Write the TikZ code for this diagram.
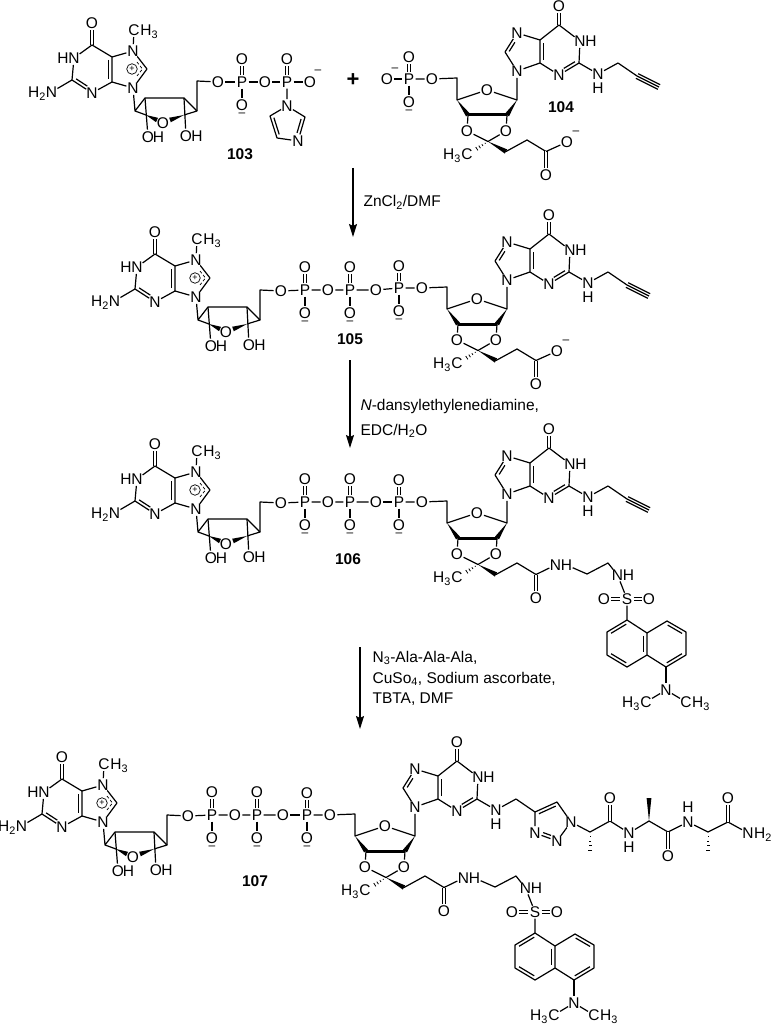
\documentclass[tikz,border=0pt]{standalone}
\usepackage{fontspec}
\setmainfont{Liberation Sans}
\usetikzlibrary{calc,arrows.meta}
\newcommand{\atomfont}{\fontsize{15.5}{17}\selectfont}
\newcommand{\labelfont}{\fontsize{15.5}{18}\selectfont}
\tikzstyle{atom}=[circle,inner sep=-1pt,font=\atomfont]
\tikzstyle{tag}=[inner sep=0pt,font=\atomfont]
\tikzstyle{minus}=[inner sep=0pt,font=\fontsize{12}{12}\selectfont]
\tikzstyle{cpd}=[inner sep=0pt,font=\labelfont\bfseries]
\tikzstyle{reagent}=[inner sep=0pt,anchor=base west,font=\labelfont]
\tikzstyle{dbl}=[double,double distance=2pt,line width=1pt]
\tikzstyle{step arrow}=[-{Stealth[length=13pt,width=8pt,inset=2pt]}]
% bond helpers
\newcommand{\wedgeb}[2]{\fill (#1) -- ($(#2)!2.4pt!90:(#1)$) -- ($(#2)!2.4pt!-90:(#1)$) -- cycle;}
\newcommand{\hashb}[2]{\foreach \t/\w in {.2/.5,.4/1,.6/1.5,.8/2,1/2.5}{\draw[line width=.8pt] ($(#1)!\t!(#2)!\w pt!90:(#2)$) -- ($(#1)!\t!(#2)!\w pt!-90:(#2)$);}}
\newcommand{\inbond}[5]{\draw ($(#1)!#4!(#2)!3.2pt!#3:(#2)$) -- ($(#1)!#5!(#2)!3.2pt!#3:(#2)$);}
\newcommand{\phos}[3]{
\node[atom] (#1) at (#2,#3) {P};
\node[atom] (#1t) at (#2,#3-23) {O};
\node[atom] (#1b) at (#2,#3+23) {O};
\node[minus] (#1m) at (#2,#3+33) {--};
\draw[dbl] (#1) -- (#1t);
\draw (#1) -- (#1b);
}
% 7-methylguanosine end
\newcommand{\capunit}[3]{
\begin{scope}[shift={(#2,#3)},name prefix=#1-]
\node[atom] (o6) at (92,23) {O};
\node[atom] (n1) at (74,58) {N};
\node[tag] (h1) at (63,58) {H};
\node[atom] (n2) at (51.5,92) {N};
\node[tag,anchor=base east] (h2) at (46.5,97.5) {H\textsubscript{2}};
\node[atom] (n3) at (92,93) {N};
\node[atom] (n7) at (133,51) {N};
\node[atom] (n9) at (133,88) {N};
\node[atom] (me) at (134,30) {C};
\node[tag,anchor=base west] (meh) at (139.8,35.5) {H\textsubscript{3}};
\node[draw,circle,inner sep=0pt,line width=.7pt,minimum size=10.5pt,font=\fontsize{9}{9}\selectfont] (pl) at (132,69) {+};
\coordinate (c6) at (92,45);
\coordinate (c5) at (112,57);
\coordinate (c4) at (112,82);
\coordinate (c2) at (72,80);
\coordinate (c8) at (147,69);
\coordinate (d1) at (137,62);
\coordinate (d2) at (142.5,69);
\coordinate (d3) at (137,76);
\draw[dbl] (o6) -- (c6);
\draw (n1) -- (c6) -- (c5) -- (c4) -- (n3) -- (c2) -- (n1);
\draw (c2) -- (n2);
\draw (c5) -- (n7) -- (c8) -- (n9) -- (c4);
\draw (n7) -- (me);
\draw[densely dashed,line width=.7pt] (d1) -- (d2) -- (d3);
\inbond{c5}{c4}{-90}{.12}{.88}
\inbond{n3}{c2}{-90}{.32}{.88}
% sugar
\node[atom] (or) at (163,123) {O};
\node[atom] (oa) at (148,137) {O};
\node[tag] (ha) at (158.5,137) {H};
\node[atom] (ob) at (186,136) {O};
\node[tag] (hb) at (197,136) {H};
\node[atom] (o5) at (218,82) {O};
\coordinate (s1) at (135,111);
\coordinate (s2) at (145,98);
\coordinate (s3) at (184,98);
\coordinate (s4) at (197,111);
\coordinate (s5) at (146,115);
\coordinate (s6) at (184,115);
\coordinate (s7) at (197,81);
\coordinate (w1) at (157,120);
\coordinate (w2) at (170,120);
\draw (n9) -- (s1) -- (s2) -- (s3) -- (s4) -- (s6);
\draw (s1) -- (s5);
\draw (s2) -- (oa);
\draw (s3) -- (ob);
\draw (s4) -- (s7) -- (o5);
\wedgeb{s5}{w1}
\wedgeb{s6}{w2}
\end{scope}
}
% first two phosphates of the chain
\newcommand{\triunit}[3]{
\begin{scope}[shift={(#2,#3)},name prefix=#1-]
\phos{p1}{242}{81}
\phos{p2}{287}{81}
\node[atom] (o1) at (265,81) {O};
\node[atom] (o2) at (313,81) {O};
\draw (o5) -- (p1) -- (o1) -- (p2) -- (o2);
\end{scope}
}
% guanosine with ketal and phosphate
\newcommand{\rnaunit}[3]{
\begin{scope}[shift={(#2,#3)},name prefix=#1-]
\node[atom] (o6) at (559,6) {O};
\node[atom] (n1) at (580,41) {N};
\node[tag] (h1) at (591,41) {H};
\node[atom] (n3) at (559,75) {N};
\node[atom] (n7) at (517,33) {N};
\node[atom] (n9) at (517,71) {N};
\node[atom] (n2) at (598,74) {N};
\node[atom] (h2) at (598,88) {H};
\coordinate (c6) at (559,25);
\coordinate (c5) at (540,40);
\coordinate (c4) at (540,63);
\coordinate (c2) at (579,63);
\coordinate (c8) at (505,52);
\coordinate (ch) at (618,63);
\draw[dbl] (o6) -- (c6);
\draw (n1) -- (c6) -- (c5) -- (c4) -- (n3) -- (c2) -- (n1);
\draw (c2) -- (n2) -- (ch);
\draw (c5) -- (n7) -- (c8) -- (n9) -- (c4);
\inbond{c4}{c5}{-90}{.12}{.88}
\inbond{c2}{n3}{-90}{.12}{.68}
\inbond{c8}{n7}{-90}{.12}{.6}
% ribose and ketal
\node[atom] (or) at (487,90) {O};
\node[atom] (o3) at (467,131) {O};
\node[atom] (o2) at (506,131) {O};
\node[atom] (o5) at (432,79) {O};
\node[atom] (p) at (409,79) {P};
\node[atom] (pt) at (409,57) {O};
\node[atom] (pb) at (409,102) {O};
\node[minus] (pm) at (409,112) {--};
\node[atom] (mec) at (467,154) {C};
\node[tag,anchor=base east] (meh) at (461.4,159.5) {H\textsubscript{3}};
\coordinate (r1) at (517,100);
\coordinate (r2) at (507,115);
\coordinate (r3) at (468,115);
\coordinate (r4) at (457,100);
\coordinate (r5) at (457,78);
\coordinate (cq) at (488,141.5);
\coordinate (hh) at (474,150.5);
\coordinate (t1) at (506,151.5);
\coordinate (t2) at (527,140);
\coordinate (t3) at (546,151.5);
\node[atom] (ot) at (546,175) {O};
\draw (n9) -- (r1) -- (or) -- (r4) -- (r5) -- (o5) -- (p);
\draw[dbl] (p) -- (pt);
\draw (p) -- (pb);
\wedgeb{r1}{r2}
\wedgeb{r4}{r3}
\draw[line width=3pt] (r3) -- (r2);
\draw (r3) -- (o3) -- (cq) -- (o2) -- (r2);
\hashb{cq}{hh}
\wedgeb{cq}{t1}
\draw (t1) -- (t2) -- (t3);
\draw[dbl] (t3) -- (ot);
\end{scope}
}
\newcommand{\acidend}[3]{
\begin{scope}[shift={(#2,#3)},name prefix=#1-]
\node[atom] (oa) at (567,142) {O};
\node[minus] (oam) at (576,133) {--};
\draw (t3) -- (oa);
\end{scope}
}
\newcommand{\alkyne}[3]{
\begin{scope}[shift={(#2,#3)},name prefix=#1-]
\coordinate (y1) at (637,76);
\coordinate (y2) at (659,87);
\draw (ch) -- (y1) -- (y2);
\draw ($(y1)!2.6pt!90:(y2)$) -- ($(y2)!2.6pt!-90:(y1)$);
\draw ($(y1)!2.6pt!-90:(y2)$) -- ($(y2)!2.6pt!90:(y1)$);
\end{scope}
}
% amide chain and dansyl
\newcommand{\dansyl}[3]{
\begin{scope}[shift={(#2,#3)},name prefix=#1-]
\node[atom] (na) at (565.5,142) {N};
\node[tag] (nah) at (576.5,142) {H};
\node[atom] (nb) at (627.5,152) {N};
\node[tag] (nbh) at (638.5,152) {H};
\node[atom] (s) at (637,176) {S};
\node[atom] (so1) at (614,176) {O};
\node[atom] (so2) at (659,176) {O};
\node[atom] (nd) at (676,267) {N};
\node[atom] (mel) at (656,279) {C};
\node[tag,anchor=base east] (melh) at (650.4,284.5) {H\textsubscript{3}};
\node[atom] (mer) at (696,279) {C};
\node[tag,anchor=base west] (merh) at (701.6,284.5) {H\textsubscript{3}};
\coordinate (e1) at (597,151);
\coordinate (e2) at (618,140);
\coordinate (a1) at (637,197);
\coordinate (a2) at (617,209);
\coordinate (a3) at (617,232);
\coordinate (a4) at (637,244);
\coordinate (a5) at (657,232);
\coordinate (a6) at (657,210);
\coordinate (a7) at (677,198);
\coordinate (a8) at (696,209);
\coordinate (a9) at (696,232);
\coordinate (a10) at (676,244);
\draw (t3) -- (na);
\draw (nah) -- (e1) -- (e2) -- (nb);
\draw (nb) -- (s) -- (a1);
\draw[dbl] (so1) -- (s);
\draw[dbl] (s) -- (so2);
\draw (a1) -- (a2) -- (a3) -- (a4) -- (a5) -- (a6) -- (a1);
\draw (a6) -- (a7) -- (a8) -- (a9) -- (a10) -- (a5);
\inbond{a2}{a1}{-90}{.12}{.88}
\inbond{a4}{a3}{-90}{.12}{.88}
\inbond{a6}{a5}{-90}{.12}{.88}
\inbond{a7}{a8}{-90}{.12}{.88}
\inbond{a9}{a10}{-90}{.12}{.88}
\draw (a10) -- (nd);
\draw (mel) -- (nd) -- (mer);
\end{scope}
}
\begin{document}
\begin{tikzpicture}[x=1pt,y=-1pt,line width=1.2pt,line join=round]
\useasboundingbox (0,0) rectangle (771,1024);

% 103
\capunit{m3}{0}{0}
\begin{scope}[name prefix=m3-]
\phos{p1}{242}{82}
\node[atom] (o1) at (265,82) {O};
\node[atom] (p2) at (287,82) {P};
\node[atom] (p2t) at (287,59) {O};
\node[atom] (o2) at (310,82) {O};
\node[minus] (o2m) at (318,72) {--};
\node[atom] (im1) at (287,106) {N};
\node[atom] (im4) at (298,141) {N};
\coordinate (im2) at (270,116);
\coordinate (im3) at (277,138);
\coordinate (im5) at (305,117);
\draw (o5) -- (p1) -- (o1) -- (p2) -- (o2);
\draw[dbl] (p2) -- (p2t);
\draw (p2) -- (im1) -- (im2) -- (im3) -- (im4) -- (im5) -- (im1);
\inbond{im2}{im3}{90}{.12}{.88}
\inbond{im4}{im5}{90}{.3}{.88}
\end{scope}
\node[cpd] (l103) at (240,154) {103};
\node[inner sep=0pt,font=\fontsize{22}{22}\selectfont\bfseries] (plus) at (353,80) {+};

% 104
\rnaunit{m4}{0}{0}
\acidend{m4}{0}{0}
\alkyne{m4}{0}{0}
\node[atom] (m4-pl) at (387,79) {O};
\node[minus] (m4-plm) at (395,70) {--};
\draw (m4-pl) -- (m4-p);
\node[cpd] (l104) at (561,107) {104};

% step 1
\coordinate (s1a) at (353,168);
\coordinate (s1b) at (353,237);
\draw[step arrow] (s1a) -- (s1b);
\node[reagent] (r1) at (363,207) {ZnCl\textsubscript{2}/DMF};

% 105
\capunit{m5}{63}{209}
\triunit{m5}{63}{209}
\rnaunit{m5b}{-10}{209}
\acidend{m5b}{-10}{209}
\alkyne{m5b}{-10}{209}
\draw (m5-o2) -- (m5b-p);
\node[cpd] (l105) at (350,339) {105};

% step 2
\coordinate (s2a) at (350,360);
\coordinate (s2b) at (350,448);
\draw[step arrow] (s2a) -- (s2b);
\node[reagent] (r2) at (360,410) {\textit{N}-dansylethylenediamine,};
\node[reagent] (r2b) at (360,435) {EDC/H\textsubscript{2}O};

% 106
\capunit{m6}{63}{421}
\triunit{m6}{63}{421}
\rnaunit{m6b}{-10}{423}
\alkyne{m6b}{-10}{423}
\dansyl{m6b}{-10}{423}
\draw (m6-o2) -- (m6b-p);
\node[cpd] (l106) at (348,559) {106};

% step 3
\coordinate (s3a) at (360,647);
\coordinate (s3b) at (360,729);
\draw[step arrow] (s3a) -- (s3b);
\node[reagent] (r3) at (372,662) {N\textsubscript{3}-Ala-Ala-Ala,};
\node[reagent] (r3b) at (372,683) {CuSo\textsubscript{4}, Sodium ascorbate,};
\node[reagent] (r3c) at (372,703) {TBTA, DMF};

% 107
\capunit{m7}{-30}{734}
\triunit{m7}{-30}{734}
\rnaunit{m7b}{-102}{736}
\dansyl{m7b}{-102}{736}
\draw (m7-o2) -- (m7b-p);
\node[cpd] (l107) at (255,881) {107};

% triazole and Ala-Ala-Ala
\node[atom] (tn1) at (571,822) {N};
\node[atom] (tn2) at (557,841) {N};
\node[atom] (tn3) at (535,833) {N};
\coordinate (tc4) at (535,812);
\coordinate (tc5) at (557,802);
\draw (m7b-ch) -- (tc4) -- (tc5) -- (tn1) -- (tn2) -- (tn3) -- (tc4);
\inbond{tc4}{tc5}{-90}{.12}{.88}
\inbond{tn2}{tn3}{-90}{.32}{.68}
\coordinate (a1c) at (590,832);
\coordinate (a1m) at (590,855);
\coordinate (a1k) at (610,821);
\node[atom] (a1o) at (610,798) {O};
\node[atom] (a2n) at (629,833) {N};
\node[atom] (a2h) at (629,847) {H};
\coordinate (a2c) at (649,821);
\coordinate (a2m) at (649,798);
\coordinate (a2k) at (668,832);
\node[atom] (a2o) at (668,856) {O};
\node[atom] (a3n) at (688,822) {N};
\node[atom] (a3h) at (688,807) {H};
\coordinate (a3c) at (708,832);
\coordinate (a3m) at (708,855);
\coordinate (a3k) at (728,822);
\node[atom] (a3o) at (728,798) {O};
\node[atom] (nh2) at (748,833) {N};
\node[tag,anchor=base west] (nh2h) at (753.6,838.5) {H\textsubscript{2}};
\draw (tn1) -- (a1c) -- (a1k) -- (a2n) -- (a2c) -- (a2k) -- (a3n) -- (a3c) -- (a3k) -- (nh2);
\draw[dbl] (a1k) -- (a1o);
\draw[dbl] (a2k) -- (a2o);
\draw[dbl] (a3k) -- (a3o);
\hashb{a1c}{a1m}
\wedgeb{a2c}{a2m}
\hashb{a3c}{a3m}
\end{tikzpicture}
\end{document}
